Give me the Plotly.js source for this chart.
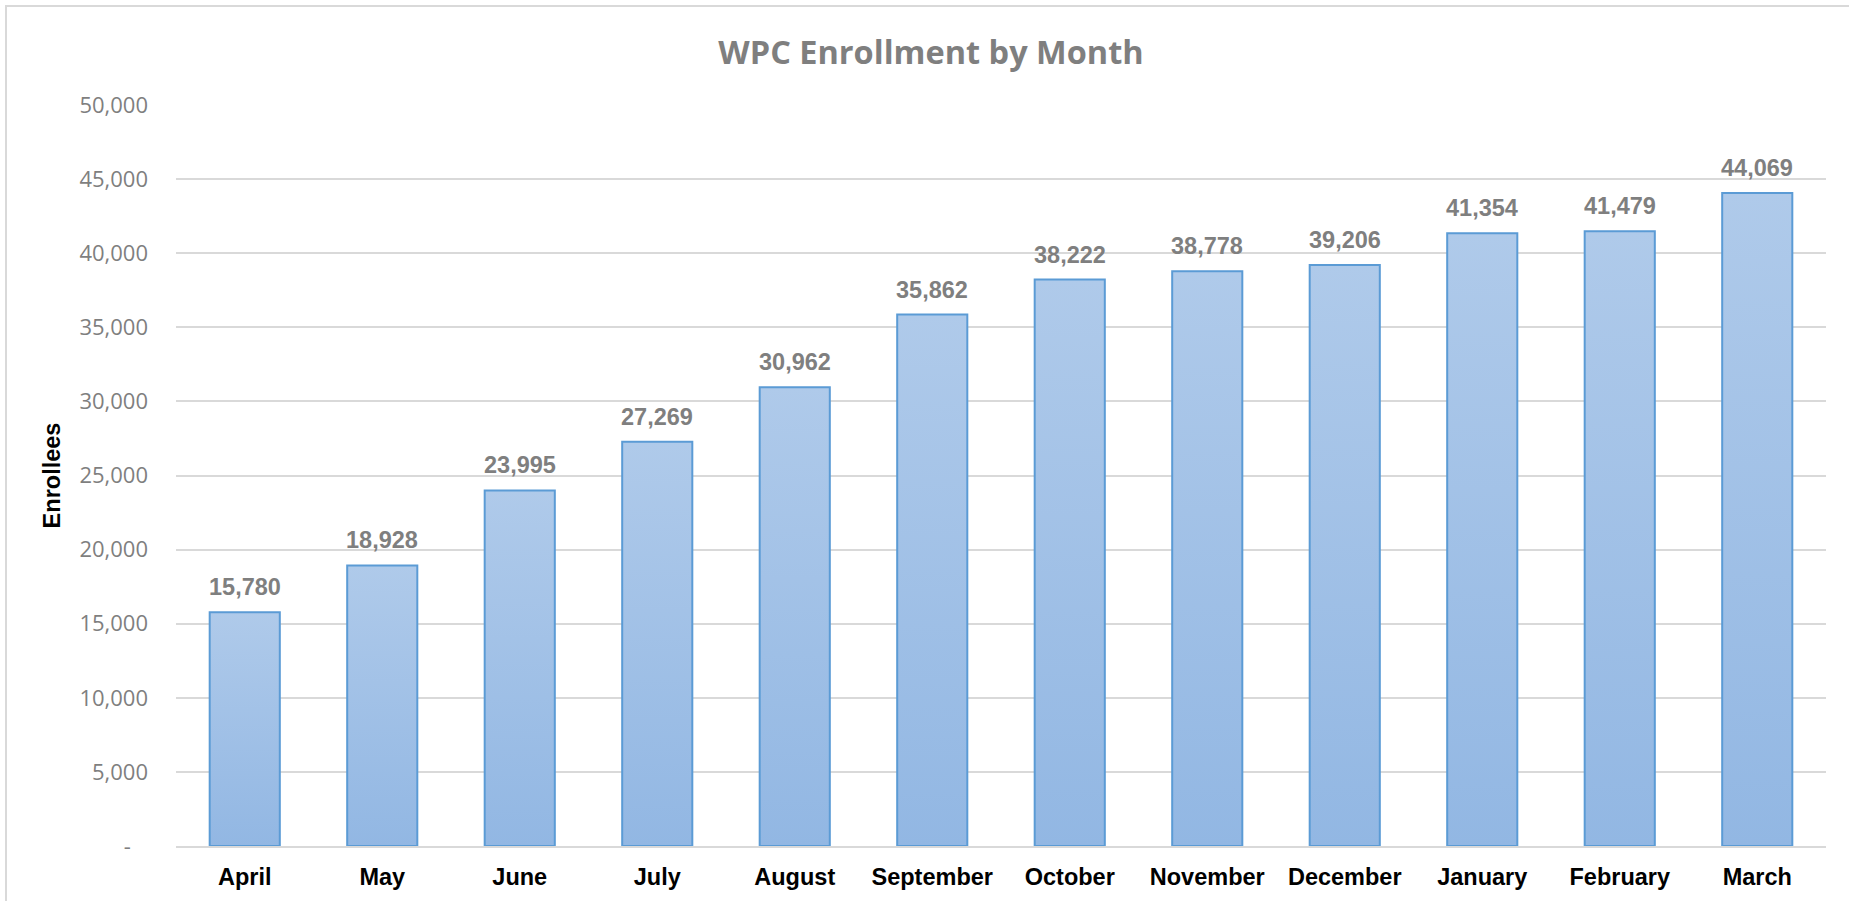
<!DOCTYPE html>
<html>
<head>
<meta charset="utf-8">
<script src="https://cdn.plot.ly/plotly-3.0.1.min.js"></script>
<style>
  html, body { margin: 0; padding: 0; background: #ffffff; overflow: hidden; }
  #chart { position: absolute; left: 0; top: 0; width: 1849px; height: 901px; }
  #frame { position: absolute; left: 5px; top: 5px; width: 1900px; height: 960px;
           border: 2px solid #d9d9d9; pointer-events: none; box-sizing: border-box; }
</style>
</head>
<body>
<div id="chart"></div>
<div id="frame"></div>
<script>
const months = ["April", "May", "June", "July", "August", "September", "October",
                "November", "December", "January", "February", "March"];
const enrollees = [15780, 18928, 23995, 27269, 30962, 35862, 38222, 38778, 39206, 41354, 41479, 44069];
const yTickValues = [0, 5000, 10000, 15000, 20000, 25000, 30000, 35000, 40000, 45000, 50000];
const yTickLabels = ["-\u00a0\u00a0\u00a0", "5,000", "10,000", "15,000", "20,000", "25,000",
                     "30,000", "35,000", "40,000", "45,000", "50,000"];
const chartTitle = "WPC Enrollment by Month";
const yAxisTitle = "Enrollees";

const labelFont = { family: "Liberation Sans, Arial, sans-serif", size: 23.5, color: "#7f7f7f", weight: "bold" };

const trace = {
  type: "bar",
  x: months,
  y: enrollees,
  marker: { color: "#a0c0e6", line: { color: "#5b9bd5", width: 2 } },
  hoverinfo: "x+y"
};

const annotations = months.map((m, i) => ({
  x: m, y: enrollees[i], xref: "x", yref: "y",
  text: "<b>" + enrollees[i].toLocaleString("en-US") + "</b>",
  showarrow: false, yanchor: "middle", yshift: 25,
  font: labelFont
}));

const layout = {
  width: 1849, height: 901,
  margin: { l: 176, r: 23, t: 105, b: 55 },
  paper_bgcolor: "#ffffff", plot_bgcolor: "#ffffff",
  showlegend: false,
  bargap: 0.49,
  title: {
    text: "<b>" + chartTitle + "</b>",
    xref: "container", x: 931 / 1849, xanchor: "center",
    yref: "container", y: 1 - 52.5 / 901, yanchor: "middle",
    font: { family: "Open Sans, sans-serif", size: 32.5, color: "#7f7f7f" }
  },
  xaxis: {
    type: "category",
    range: [-0.5, 11.5],
    showgrid: false,
    showline: true, linecolor: "#d9d9d9", linewidth: 2,
    ticks: "", ticklabelstandoff: 9,
    tickfont: { family: "Liberation Sans, Arial, sans-serif", size: 23.5, color: "#000000", weight: "bold" },
    fixedrange: true
  },
  yaxis: {
    range: [0, 50000],
    tickvals: yTickValues, ticktext: yTickLabels,
    showgrid: true, gridcolor: "#d9d9d9", gridwidth: 2,
    zeroline: false, showline: false,
    ticks: "", ticklabelstandoff: 27,
    tickfont: { family: "Open Sans, sans-serif", size: 22, color: "#7f7f7f" },
    title: {
      text: "<b>" + yAxisTitle + "</b>",
      font: { family: "Liberation Sans, Arial, sans-serif", size: 23.5, color: "#000000" },
      standoff: 12
    },
    fixedrange: true
  },
  annotations: annotations
};

Plotly.newPlot("chart", [trace], layout, { displayModeBar: false, staticPlot: true }).then(gd => {
  // vertical light-blue gradient on each bar, like the original
  const svg = gd.querySelector("svg.main-svg");
  const ns = "http://www.w3.org/2000/svg";
  let defs = svg.querySelector("defs");
  if (!defs) { defs = document.createElementNS(ns, "defs"); svg.insertBefore(defs, svg.firstChild); }
  const grad = document.createElementNS(ns, "linearGradient");
  grad.setAttribute("id", "barGrad");
  grad.setAttribute("x1", "0"); grad.setAttribute("y1", "0");
  grad.setAttribute("x2", "0"); grad.setAttribute("y2", "1");
  [["0", "#afcaea"], ["1", "#92b7e3"]].forEach(([o, c]) => {
    const s = document.createElementNS(ns, "stop");
    s.setAttribute("offset", o); s.setAttribute("stop-color", c);
    grad.appendChild(s);
  });
  defs.appendChild(grad);
  gd.querySelectorAll(".barlayer .point path").forEach(p => { p.style.fill = "url(#barGrad)"; });
});
</script>
</body>
</html>
